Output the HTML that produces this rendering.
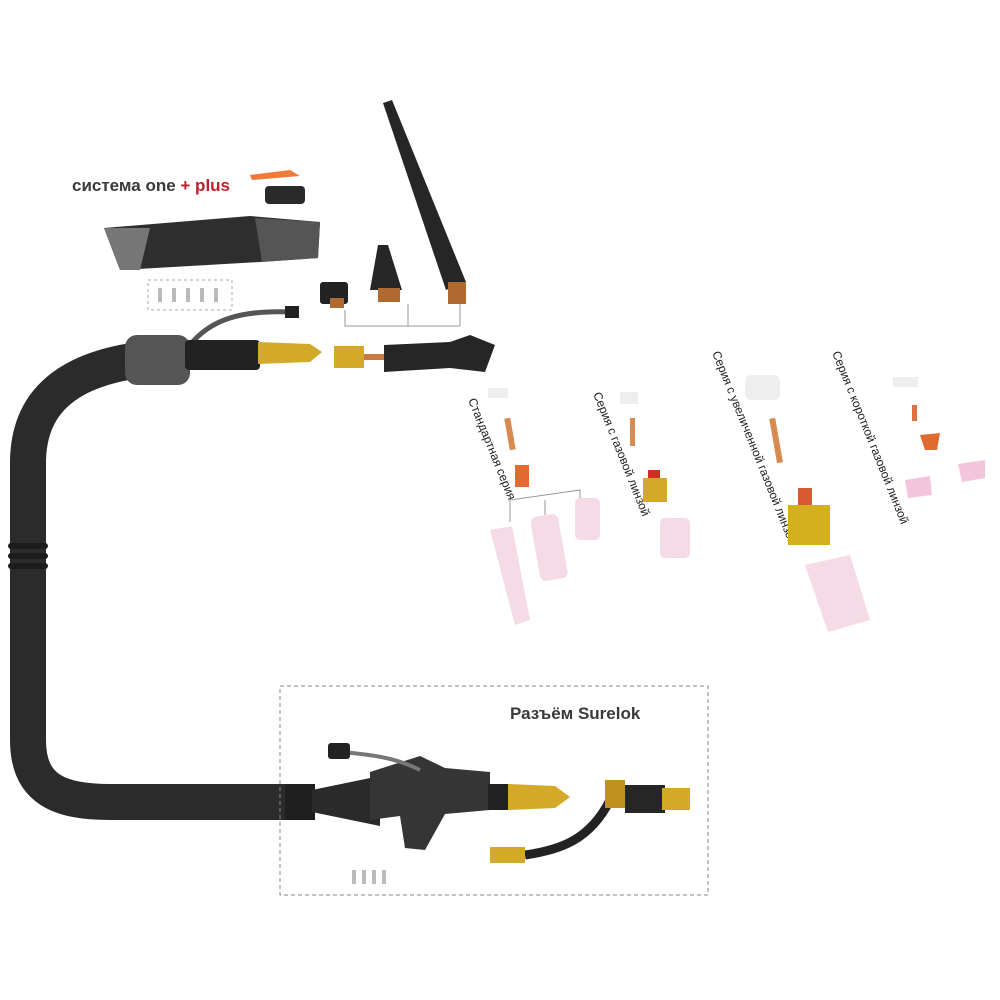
<!DOCTYPE html>
<html><head><meta charset="utf-8"><style>
html,body{margin:0;padding:0;background:#fff;}
svg{display:block}
text{font-family:"Liberation Sans",sans-serif;}
</style></head><body>
<svg width="1000" height="1000" viewBox="0 0 1000 1000" xmlns="http://www.w3.org/2000/svg">
<rect width="1000" height="1000" fill="#fff"/>
<text x="72" y="191" font-size="17" font-weight="bold" fill="#3a3a3a">система one <tspan fill="#c0202a">+ plus</tspan></text>
<path d="M250 175 L290 170 L300 176 L252 180 Z" fill="#f07a3a"/>
<rect x="265" y="186" width="40" height="18" rx="4" fill="#2a2a2a"/>
<path d="M104 228 L250 216 L320 222 L318 258 L260 262 L120 270 Z" fill="#2e2e2e"/>
<path d="M104 228 L150 228 L140 270 L120 270 Z" fill="#777"/>
<path d="M255 218 L320 222 L318 258 L262 262 Z" fill="#555"/>
<rect x="148" y="280" width="84" height="30" fill="none" stroke="#aaa" stroke-dasharray="3,3"/>
<g fill="#bbb"><rect x="158" y="288" width="4" height="14"/><rect x="172" y="288" width="4" height="14"/><rect x="186" y="288" width="4" height="14"/><rect x="200" y="288" width="4" height="14"/><rect x="214" y="288" width="4" height="14"/></g>
<path d="M180 356 C100 360 30 380 28 460 L28 740 C28 790 60 802 110 802 L300 802" fill="none" stroke="#2b2b2b" stroke-width="36"/>
<g fill="#1c1c1c"><rect x="8" y="543" width="40" height="6" rx="3"/><rect x="8" y="553" width="40" height="6" rx="3"/><rect x="8" y="563" width="40" height="6" rx="3"/></g>
<path d="M190 345 C210 320 240 310 290 312" fill="none" stroke="#555" stroke-width="5"/>
<rect x="285" y="306" width="14" height="12" fill="#222"/>
<rect x="125" y="335" width="65" height="50" rx="12" fill="#555"/>
<rect x="185" y="340" width="75" height="30" rx="4" fill="#222"/>
<path d="M258 342 L310 344 L322 352 L310 362 L258 364 Z" fill="#d4a828"/>
<rect x="334" y="346" width="30" height="22" fill="#d4a828"/>
<rect x="364" y="354" width="20" height="6" fill="#c87a40"/>
<path d="M384 345 L450 342 L470 335 L495 345 L485 372 L450 368 L384 372 Z" fill="#262626"/>
<path d="M383 103 L392 100 L466 282 L446 290 Z" fill="#262626"/>
<rect x="448" y="282" width="18" height="22" fill="#b06a30"/>
<path d="M370 290 L378 245 L388 245 L402 290 Z" fill="#262626"/>
<rect x="378" y="288" width="22" height="14" fill="#b06a30"/>
<rect x="320" y="282" width="28" height="22" rx="3" fill="#222"/>
<rect x="330" y="298" width="14" height="10" fill="#b06a30"/>
<path d="M345 310 L345 326 L460 326 M408 304 L408 326 M460 304 L460 326" fill="none" stroke="#999" stroke-width="1"/>
<g font-size="12" fill="#222">
<text transform="translate(468,400) rotate(68)">Стандартная серия</text>
<text transform="translate(593,394) rotate(68)">Серия с газовой линзой</text>
<text transform="translate(712,353) rotate(68)">Серия с увеличенной газовой линзой</text>
<text transform="translate(832,353) rotate(68)">Серия с короткой газовой линзой</text>
</g>
<rect x="488" y="388" width="20" height="10" fill="#eee"/>
<rect x="507" y="418" width="6" height="32" fill="#d98a50" transform="rotate(-10 510 434)"/>
<rect x="515" y="465" width="14" height="22" fill="#e06a30"/>
<path d="M510 522 L510 500 L580 490 L580 500" fill="none" stroke="#999"/>
<path d="M545 500 L545 515" stroke="#999"/>
<path d="M490 530 L512 526 L530 620 L515 625 Z" fill="#f5dbe6"/>
<rect x="535" y="515" width="28" height="65" rx="6" fill="#f5dbe6" transform="rotate(-10 549 547)"/>
<rect x="575" y="498" width="25" height="42" rx="5" fill="#f5dbe6"/>
<rect x="620" y="392" width="18" height="12" fill="#eee"/>
<rect x="630" y="418" width="5" height="28" fill="#d98a50"/>
<rect x="648" y="470" width="12" height="8" fill="#d03020"/>
<rect x="643" y="478" width="24" height="24" fill="#d4a828"/>
<rect x="660" y="518" width="30" height="40" rx="5" fill="#f5dbe6"/>
<rect x="745" y="375" width="35" height="25" rx="6" fill="#eee"/>
<rect x="773" y="418" width="6" height="45" fill="#d98a50" transform="rotate(-10 776 440)"/>
<rect x="798" y="488" width="14" height="18" fill="#d85a30"/>
<rect x="788" y="505" width="42" height="40" fill="#d4b020"/>
<path d="M805 565 L850 555 L870 620 L828 632 Z" fill="#f5dbe6"/>
<rect x="893" y="377" width="25" height="10" fill="#eee"/>
<rect x="912" y="405" width="5" height="16" fill="#e07040"/>
<path d="M920 435 L940 433 L937 450 L925 450 Z" fill="#e06a30"/>
<path d="M905 480 L930 476 L932 495 L908 498 Z" fill="#f3c5dd"/>
<path d="M958 464 L985 460 L985 478 L962 482 Z" fill="#f3c5dd"/>
<rect x="280" y="686" width="428" height="209" fill="none" stroke="#888" stroke-dasharray="4,3"/>
<text x="510" y="719" font-size="17" font-weight="bold" fill="#3a3a3a">Разъём Surelok</text>
<rect x="285" y="784" width="30" height="36" fill="#1e1e1e"/>
<path d="M312 790 L380 776 L380 826 L312 812 Z" fill="#2a2a2a"/>
<path d="M370 772 L420 756 L445 768 L490 772 L490 810 L445 814 L425 850 L405 848 L400 816 L370 820 Z" fill="#353535"/>
<rect x="488" y="784" width="20" height="26" fill="#222"/>
<path d="M508 784 L555 786 L570 797 L555 808 L508 810 Z" fill="#d4a828"/>
<path d="M340 752 C380 755 400 760 420 770" fill="none" stroke="#777" stroke-width="4"/>
<rect x="328" y="743" width="22" height="16" rx="3" fill="#222"/>
<path d="M525 855 C560 850 590 840 610 800" fill="none" stroke="#222" stroke-width="9"/>
<rect x="490" y="847" width="35" height="16" fill="#d4a828"/>
<rect x="605" y="780" width="20" height="28" fill="#c09020"/>
<rect x="625" y="785" width="40" height="28" fill="#262626"/>
<rect x="662" y="788" width="28" height="22" fill="#d4a828"/>
<g fill="#bbb"><rect x="352" y="870" width="4" height="14"/><rect x="362" y="870" width="4" height="14"/><rect x="372" y="870" width="4" height="14"/><rect x="382" y="870" width="4" height="14"/></g>
</svg>
</body></html>
